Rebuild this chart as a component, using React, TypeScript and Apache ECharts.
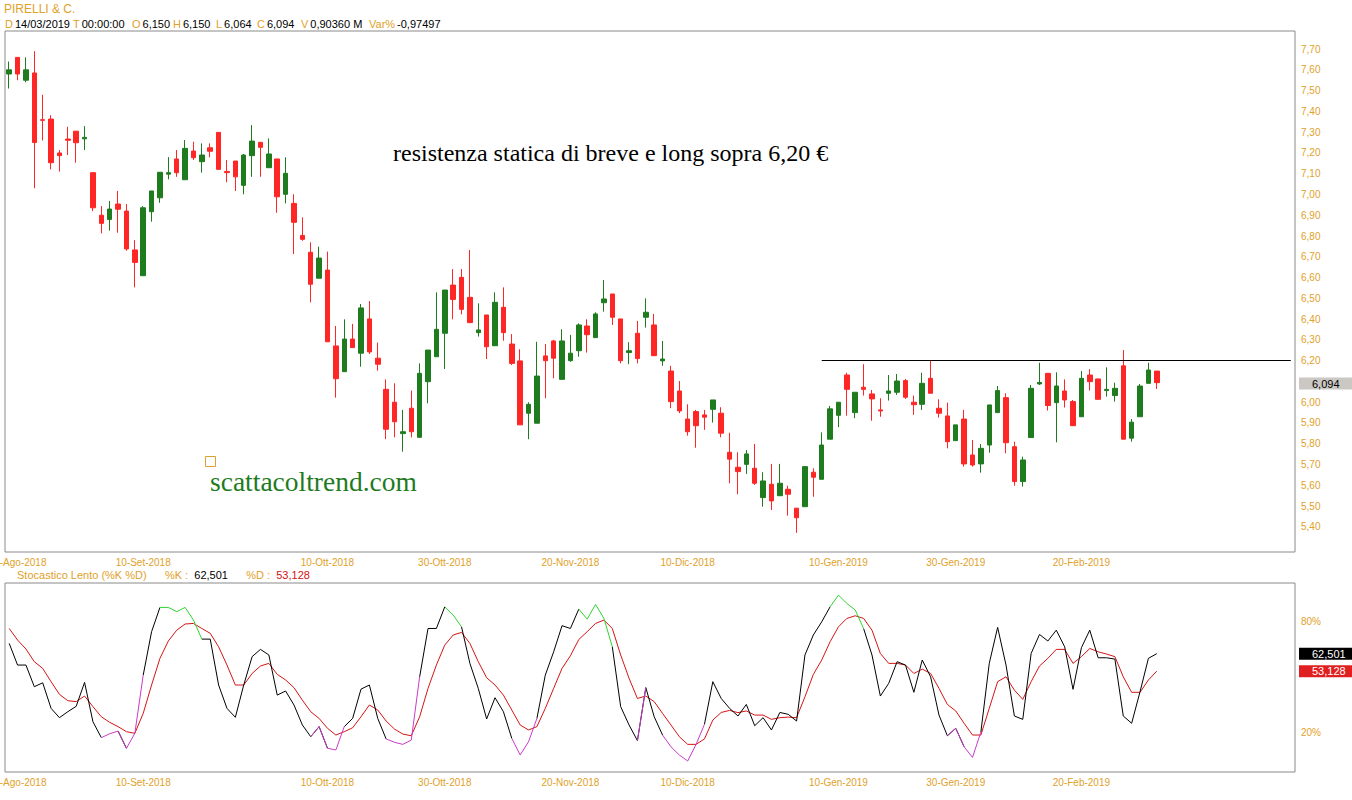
import React, { useEffect, useRef } from "react";
import * as echarts from "echarts";

// ---------- DATA ----------
const opens = [7.58,7.66,7.55,7.585,7.36,7.363,7.2,7.267,7.305,7.268,7.105,6.9,6.88,6.954,6.92,6.733,6.609,6.917,6.984,7.098,7.171,7.071,7.209,7.158,7.225,7.299,7.111,7.161,7.044,7.187,7.251,7.129,7.171,7.001,6.957,6.803,6.722,6.597,6.636,6.271,6.147,6.304,6.236,6.401,6.212,6.062,6.0,5.849,5.971,5.831,6.099,6.219,6.332,6.564,6.601,6.505,6.335,6.42,6.272,6.457,6.28,6.199,5.947,5.899,6.223,6.295,6.11,6.2,6.248,6.367,6.311,6.479,6.521,6.401,6.239,6.332,6.409,6.372,6.199,6.15,6.054,5.919,5.955,5.939,5.966,5.947,5.759,5.687,5.701,5.682,5.541,5.605,5.55,5.581,5.49,5.497,5.663,5.629,5.822,5.937,6.131,5.95,6.072,6.04,5.963,6.043,6.048,6.104,6.0,5.99,6.115,5.971,5.934,5.815,5.919,5.746,5.703,5.794,5.95,6.022,5.786,5.618,5.83,6.088,6.139,5.998,6.054,6.003,5.93,6.131,6.112,6.056,6.032,6.175,5.827,5.93,6.091,6.15];
const highs = [7.64,7.66,7.66,7.69,7.48,7.382,7.214,7.326,7.305,7.329,7.105,6.944,6.969,7.017,6.954,6.78,6.944,7.017,7.108,7.18,7.214,7.262,7.254,7.246,7.246,7.299,7.166,7.161,7.195,7.334,7.251,7.27,7.171,7.179,7.001,6.89,6.77,6.749,6.725,6.367,6.399,6.377,6.473,6.487,6.287,6.11,6.091,5.963,6.056,6.187,6.251,6.529,6.54,6.641,6.641,6.733,6.476,6.42,6.529,6.553,6.328,6.255,6.0,6.291,6.28,6.3,6.351,6.324,6.38,6.399,6.433,6.588,6.521,6.401,6.289,6.391,6.5,6.425,6.295,6.175,6.102,5.99,5.963,5.963,6.011,5.976,5.853,5.759,5.77,5.799,5.663,5.703,5.703,5.598,5.49,5.69,5.682,5.855,5.982,6.0,6.142,6.048,6.183,6.059,6.019,6.131,6.136,6.112,6.032,6.142,6.203,6.014,5.998,5.891,5.963,5.818,5.799,5.987,6.078,6.043,5.81,5.738,6.083,6.19,6.139,6.144,6.11,6.011,6.15,6.159,6.112,6.168,6.094,6.251,5.919,6.088,6.19,6.15];
const lows = [7.51,7.55,7.54,7.03,7.26,7.121,7.11,7.19,7.153,7.214,6.92,6.813,6.826,6.816,6.729,6.553,6.609,6.869,6.96,7.073,7.085,7.071,7.166,7.105,7.179,7.121,7.059,7.017,7.001,7.085,7.085,7.129,6.912,6.957,6.713,6.777,6.481,6.597,6.291,6.022,6.147,6.263,6.171,6.232,6.152,5.822,5.831,5.762,5.831,5.831,5.995,6.219,6.16,6.399,6.423,6.383,6.316,6.208,6.272,6.296,6.179,5.891,5.822,5.899,6.019,6.115,6.11,6.195,6.219,6.239,6.311,6.436,6.372,6.187,6.183,6.187,6.359,6.224,6.175,5.971,5.947,5.839,5.781,5.867,5.902,5.831,5.61,5.557,5.655,5.602,5.497,5.481,5.55,5.454,5.371,5.497,5.545,5.629,5.822,5.88,5.935,5.923,6.032,5.911,5.93,6.008,6.035,6.016,5.939,5.963,6.043,5.926,5.778,5.815,5.69,5.69,5.661,5.757,5.95,5.754,5.598,5.594,5.83,6.083,5.96,5.807,5.974,5.887,5.93,6.056,6.014,6.027,6.003,5.822,5.81,5.93,6.091,6.064];
const closes = [7.6,7.58,7.6,7.25,7.357,7.153,7.187,7.261,7.249,7.275,6.936,6.861,6.93,6.929,6.738,6.673,6.936,7.017,7.107,7.105,7.105,7.222,7.177,7.19,7.208,7.121,7.105,7.085,7.19,7.257,7.227,7.195,6.989,7.102,6.866,6.784,6.568,6.694,6.291,6.113,6.304,6.263,6.454,6.242,6.183,5.87,5.906,5.858,5.858,6.139,6.251,6.351,6.54,6.495,6.447,6.383,6.348,6.267,6.481,6.335,6.187,5.891,5.99,6.126,6.2,6.212,6.295,6.236,6.372,6.325,6.425,6.497,6.409,6.2,6.248,6.21,6.433,6.224,6.208,6.003,5.958,5.858,5.887,5.928,6.011,5.851,5.726,5.666,5.751,5.61,5.621,5.525,5.61,5.557,5.444,5.69,5.639,5.794,5.968,6.0,6.062,6.048,6.062,6.016,5.958,6.054,6.102,6.024,5.988,6.091,6.043,5.947,5.81,5.891,5.703,5.698,5.778,5.987,6.056,5.805,5.618,5.722,6.067,6.095,5.984,6.078,6.011,5.887,6.115,6.099,6.014,6.062,6.067,5.822,5.904,6.078,6.155,6.094];
const stochK = [68.0,56.4,56.4,44.8,46.9,33.2,28.2,31.4,34.3,47.1,26.0,17.5,19.6,21.0,11.8,19.8,51.0,74.3,87.3,87.3,85.0,87.3,80.5,70.3,70.3,45.7,33.2,28.4,45.7,60.9,64.8,61.8,40.3,42.5,35.0,24.3,18.0,23.4,11.8,10.9,23.4,27.8,43.5,45.7,27.8,16.8,15.0,13.9,16.2,50.1,76.0,76.0,87.6,83.2,76.9,57.3,43.9,27.5,38.9,31.4,17.1,8.2,15.3,27.8,51.0,63.5,77.5,76.0,86.4,81.0,88.9,81.4,66.2,34.1,24.3,15.9,44.3,28.7,18.9,12.6,8.2,5.0,13.9,24.6,47.5,38.5,33.2,29.1,35.3,23.9,28.2,21.6,31.0,30.0,26.4,61.8,72.5,79.6,87.6,93.9,89.4,85.9,76.0,61.8,39.8,46.6,58.2,56.4,41.8,59.1,50.1,29.6,18.5,22.5,12.6,6.9,20.5,57.3,76.6,56.4,29.1,27.3,62.6,72.8,69.3,75.1,66.2,43.4,65.7,75.1,60.3,60.3,59.6,29.1,25.2,42.1,60.0,62.501];
const stochD = [76.0,69.8,65.0,58.2,54.6,47.5,40.7,37.3,36.8,39.8,34.1,28.7,25.7,23.4,20.7,19.8,30.5,45.7,60.0,69.3,75.1,78.4,78.7,76.0,73.4,66.2,56.4,45.7,45.7,51.9,55.9,57.3,51.4,48.4,44.3,37.6,31.4,27.8,22.5,18.9,20.7,22.8,28.7,35.0,32.3,26.4,22.1,19.4,18.5,28.7,43.9,56.4,67.1,72.5,73.9,68.0,58.2,49.6,45.7,40.3,32.3,24.3,21.6,23.4,33.2,43.9,54.6,61.4,70.1,74.3,78.7,80.5,76.0,61.8,49.3,38.5,39.8,36.8,30.5,24.3,18.0,13.9,13.9,16.8,26.9,31.0,32.1,30.9,31.8,29.6,29.6,27.3,28.2,28.5,28.2,39.4,51.4,59.1,68.9,76.9,81.4,82.8,81.4,75.1,62.6,57.3,57.3,56.4,51.9,54.2,51.9,43.9,35.3,31.8,25.2,18.9,18.9,33.2,47.5,50.1,43.0,38.0,47.5,55.9,60.0,64.8,64.8,57.3,60.9,65.3,63.5,62.3,60.9,50.1,41.8,41.8,48.4,53.128];
const emptySlots = 16;
const xTickLabels: [number, string][] = [
  [1, "20-Ago-2018"], [16, "10-Set-2018"], [38, "10-Ott-2018"], [52, "30-Ott-2018"],
  [67, "20-Nov-2018"], [81, "10-Dic-2018"], [99, "10-Gen-2019"], [113, "30-Gen-2019"], [128, "20-Feb-2019"],
];
// 6,10 is hidden behind the last-price box in the reference
const priceTicks = [5.4,5.5,5.6,5.7,5.8,5.9,6.0,6.2,6.3,6.4,6.5,6.6,6.7,6.8,6.9,7.0,7.1,7.2,7.3,7.4,7.5,7.6,7.7];
const stochTicks = [20, 80];
const resistanceLevel = 6.2;
const resistanceStartIndex = 97;
const symbolName = "PIRELLI & C.";
const lastDate = "14/03/2019";
const lastTime = "00:00:00";
const lastVolume = "0,90360 M";
const lastVarPct = "-0,97497";
const annotationText = "resistenza statica di breve e long sopra 6,20 €";
const watermarkText = "scattacoltrend.com";

// ---------- STYLE ----------
const ORANGE = "#DFA12A";
const GREEN = "#1E7B1E";
const RED = "#FF2626";
const BORDER = "#8A8A8A";
const SANS = '"Liberation Sans", Arial, sans-serif';
const SERIF = '"Liberation Serif", "Times New Roman", serif';
const CLEAR = "rgba(0,0,0,0)";

const fmt = (v: number, d: number) => v.toFixed(d).replace(".", ",");

export default function App() {
  const ref = useRef<HTMLDivElement>(null);
  useEffect(() => {
    if (!ref.current) return;
    const chart = echarts.init(ref.current, undefined, { renderer: "svg" });
    const n = closes.length;
    const total = n + emptySlots;
    const categories = Array.from({ length: total }, (_, i) => String(i));
    const labelMap = new Map<number, string>(xTickLabels);
    const candles = opens.map((o, i) => [o, closes[i], lows[i], highs[i]]);

    // %K coloured by the zone of each segment's start point
    const kBlack: (number | null)[] = new Array(n).fill(null);
    const kGreen: (number | null)[] = new Array(n).fill(null);
    const kMag: (number | null)[] = new Array(n).fill(null);
    for (let i = 0; i < n - 1; i++) {
      const v = stochK[i];
      const target = v >= 80 ? kGreen : v <= 20 ? kMag : kBlack;
      target[i] = stochK[i];
      target[i + 1] = stochK[i + 1];
    }

    const O = opens[n - 1], H = highs[n - 1], L = lows[n - 1], C = closes[n - 1];
    const lastK = stochK[n - 1], lastD = stochD[n - 1];

    const xAxisCommon = (gridIndex: number) => ({
      type: "category",
      gridIndex,
      data: categories,
      boundaryGap: true,
      axisLine: { show: false },
      axisTick: { show: false },
      splitLine: { show: false },
      axisLabel: {
        interval: (idx: number) => labelMap.has(idx),
        formatter: (_v: string, idx: number) => labelMap.get(idx) || "",
        color: ORANGE,
        fontSize: 10,
        fontFamily: SANS,
        margin: 5,
      },
    });

    const headerItems: [string, string, number][] = [
      ["D", lastDate, 5],
      ["T", lastTime, 73],
      ["O", fmt(O, 3), 132],
      ["H", fmt(H, 3), 173],
      ["L", fmt(L, 3), 216],
      ["C", fmt(C, 3), 257],
      ["V", lastVolume, 301],
      ["Var%", lastVarPct, 369],
    ];

    const graphics: any[] = [
      { type: "text", x: 4, y: 9, style: { text: symbolName, fill: ORANGE, font: `12px ${SANS}`, verticalAlign: "middle" } },
      {
        type: "text", x: 393, y: 153,
        style: { text: annotationText, fill: "#000", font: `24px ${SERIF}`, verticalAlign: "middle" },
      },
      {
        type: "text", x: 210, y: 481,
        style: { text: watermarkText, fill: "#1E7B1E", font: `27.5px ${SERIF}`, verticalAlign: "middle" },
      },
      { type: "rect", shape: { x: 205.5, y: 456.5, width: 10, height: 10 }, style: { fill: "none", stroke: ORANGE, lineWidth: 1 } },
      {
        type: "text", x: 17, y: 575,
        style: {
          text: "{o|Stocastico Lento (%K %D)}      {o|%K :}  {b|" + fmt(lastK, 3) + "}      {o|%D :}  {r|" + fmt(lastD, 3) + "}",
          font: `11px ${SANS}`,
          verticalAlign: "middle",
          rich: {
            o: { fill: ORANGE, font: `11px ${SANS}` },
            b: { fill: "#000", font: `11px ${SANS}` },
            r: { fill: "#D01010", font: `11px ${SANS}` },
          },
        },
      },
    ];
    headerItems.forEach(([k, v, x]) => {
      graphics.push({
        type: "text", x, y: 24,
        style: {
          text: `{o|${k}}{b|${v}}`,
          verticalAlign: "middle",
          rich: {
            o: { fill: ORANGE, font: `11px ${SANS}`, padding: [0, 2, 0, 0] },
            b: { fill: "#000", font: `11px ${SANS}` },
          },
        },
      });
    });

    const endLabel = (bg: string, fg: string, text: string) => ({
      show: true,
      position: "end",
      distance: 4,
      formatter: text,
      backgroundColor: bg,
      color: fg,
      opacity: 1,
      fontSize: 11,
      fontFamily: SANS,
      padding: [1, 14, 0, 13],
    });

    const gridCommon = {
      left: 5, right: 57, show: true, borderColor: BORDER, borderWidth: 1,
      backgroundColor: "#fff", containLabel: false, outerBoundsMode: "none",
    };

    chart.setOption({
      animation: false,
      backgroundColor: "#fff",
      grid: [
        { ...gridCommon, top: 31, height: 521 },
        { ...gridCommon, top: 583, height: 189 },
      ],
      xAxis: [xAxisCommon(0), xAxisCommon(1)],
      yAxis: [
        {
          type: "value", gridIndex: 0, position: "right", min: 5.279, max: 7.787,
          axisLine: { show: false }, axisTick: { show: false }, splitLine: { show: false },
          axisLabel: {
            customValues: priceTicks,
            formatter: (v: number) => fmt(v, 2),
            color: ORANGE, fontSize: 10, fontFamily: SANS, margin: 6,
          },
        },
        {
          type: "value", gridIndex: 1, position: "right", min: -0.91, max: 100.375,
          axisLine: { show: false }, axisTick: { show: false }, splitLine: { show: false },
          axisLabel: {
            customValues: stochTicks,
            formatter: (v: number) => `${v}%`,
            color: ORANGE, fontSize: 10, fontFamily: SANS, margin: 6,
          },
        },
      ],
      series: [
        {
          type: "candlestick",
          xAxisIndex: 0, yAxisIndex: 0,
          data: candles,
          barWidth: 5,
          itemStyle: { color: GREEN, color0: RED, borderColor: GREEN, borderColor0: RED, borderWidth: 1 },
          markLine: {
            silent: true,
            symbol: ["none", "none"],
            animation: false,
            data: [
              [
                { coord: [String(resistanceStartIndex), resistanceLevel], lineStyle: { color: "#000", width: 1, type: "solid" }, label: { show: false } },
                { coord: [String(total - 1), resistanceLevel] },
              ],
              { yAxis: C, lineStyle: { color: CLEAR, width: 0 }, label: endLabel("#CBC7C3", "#000", fmt(C, 3)) },
            ],
          },
        },
        {
          type: "line", xAxisIndex: 1, yAxisIndex: 1, data: stochD, showSymbol: false,
          lineStyle: { color: "#D41414", width: 1 }, z: 3,
          markLine: {
            silent: true, symbol: ["none", "none"], animation: false,
            data: [{ yAxis: lastD, lineStyle: { color: CLEAR, width: 0 }, label: endLabel("#E02020", "#fff", fmt(lastD, 3)) }],
          },
        },
        {
          type: "line", xAxisIndex: 1, yAxisIndex: 1, data: kBlack, showSymbol: false, connectNulls: false,
          lineStyle: { color: "#000", width: 1 }, z: 4,
          markLine: {
            silent: true, symbol: ["none", "none"], animation: false,
            data: [{ yAxis: lastK, lineStyle: { color: CLEAR, width: 0 }, label: endLabel("#000", "#fff", fmt(lastK, 3)) }],
          },
        },
        {
          type: "line", xAxisIndex: 1, yAxisIndex: 1, data: kGreen, showSymbol: false, connectNulls: false,
          lineStyle: { color: "#2FD42F", width: 1 }, z: 5,
        },
        {
          type: "line", xAxisIndex: 1, yAxisIndex: 1, data: kMag, showSymbol: false, connectNulls: false,
          lineStyle: { color: "#C83CC8", width: 1 }, z: 5,
        },
      ],
      graphic: graphics,
    });
    return () => chart.dispose();
  }, []);
  return <div ref={ref} style={{ position: "absolute", left: 0, top: 0, width: 1352, height: 800 }} />;
}
